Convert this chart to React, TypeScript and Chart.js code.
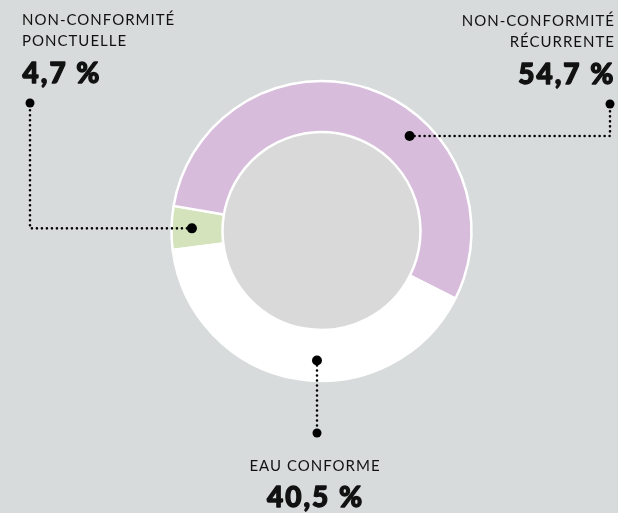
import React, { useEffect, useRef } from "react";
import { Chart, registerables } from "chart.js";

Chart.register(...registerables);

// ---- data ----
const categories = ["Non-conformité ponctuelle", "Non-conformité récurrente", "Eau conforme"];
const titleLines = [
  ["NON-CONFORMITÉ", "PONCTUELLE"],
  ["NON-CONFORMITÉ", "RÉCURRENTE"],
  ["EAU CONFORME"],
];
const values = [4.7, 54.7, 40.5];
const colors = ["#d4e3bb", "#d7bcdb", "#ffffff"];

const fmt = (v: number) => v.toFixed(1).replace(".", ",") + " %";

// leader line config (style/layout)
const leaders = [
  { angleFrac: 0.5, radFrac: 0.6, kind: "left", endX: 30, endY: 103 },
  { angleFrac: 0.625, radFrac: 0.6, kind: "right", endX: 610, endY: 104 },
  { angleFrac: 0.447, radFrac: 0.6, kind: "down", endY: 433 },
];

const BG = "#d8dbdb";
const INNER = "#d9d9d9";
const TITLE_FONT = "15px Lato, 'Open Sans', sans-serif";
const TITLE_SPACING = 1.0;
const NUM_FONT = "900 28px Lato, 'Open Sans', sans-serif";
const NUM_SPACING = 2.0;

const innerFill = {
  id: "innerFill",
  beforeDatasetsDraw(chart: any) {
    const arc = chart.getDatasetMeta(0).data[0];
    if (!arc) return;
    const { x, y, innerRadius } = arc.getProps(["x", "y", "innerRadius"], true);
    const ctx = chart.ctx;
    ctx.save();
    ctx.fillStyle = INNER;
    ctx.beginPath();
    ctx.arc(x, y, innerRadius, 0, Math.PI * 2);
    ctx.fill();
    ctx.restore();
  },
};

function drawNum(ctx: any, t: string, x: number, y: number) {
  ctx.font = NUM_FONT;
  ctx.letterSpacing = NUM_SPACING + "px";
  ctx.lineWidth = 1.3;
  ctx.lineJoin = "round";
  ctx.strokeStyle = "#111";
  ctx.strokeText(t, x, y);
  ctx.fillText(t, x, y);
}

const leaderPlugin = {
  id: "leaders",
  afterDatasetsDraw(chart: any) {
    const ctx = chart.ctx;
    const meta = chart.getDatasetMeta(0);
    meta.data.forEach((arc: any, i: number) => {
      const L = leaders[i];
      const p = arc.getProps(["x", "y", "startAngle", "endAngle", "innerRadius", "outerRadius"], true);
      const a = p.startAngle + (p.endAngle - p.startAngle) * L.angleFrac;
      const rr = p.innerRadius + (p.outerRadius - p.innerRadius) * L.radFrac;
      const sx = p.x + Math.cos(a) * rr;
      const sy = p.y + Math.sin(a) * rr;
      let ex: number, ey: number;
      const pts: [number, number][] = [[sx, sy]];
      if (L.kind === "down") {
        ex = sx;
        ey = L.endY;
        pts.push([ex, ey]);
      } else {
        ex = L.endX as number;
        ey = L.endY;
        pts.push([ex, sy]);
        pts.push([ex, ey]);
      }
      ctx.save();
      ctx.strokeStyle = "#000";
      ctx.lineWidth = 2.6;
      ctx.lineCap = "round";
      ctx.setLineDash([0, 5]);
      ctx.beginPath();
      ctx.moveTo(pts[0][0], pts[0][1]);
      for (let k = 1; k < pts.length; k++) ctx.lineTo(pts[k][0], pts[k][1]);
      ctx.stroke();
      ctx.setLineDash([]);
      ctx.lineCap = "butt";
      ctx.fillStyle = "#000";
      ctx.beginPath();
      ctx.arc(sx, sy, 5, 0, Math.PI * 2);
      ctx.fill();
      ctx.beginPath();
      ctx.arc(ex, ey, 4.5, 0, Math.PI * 2);
      ctx.fill();

      // texts
      ctx.fillStyle = "#111";
      ctx.textBaseline = "alphabetic";
      const lines = titleLines[i];
      if (L.kind === "left" || L.kind === "right") {
        const align = L.kind === "left" ? "left" : "right";
        const tx = L.kind === "left" ? ex - 8 : ex + 4;
        ctx.textAlign = align;
        ctx.font = TITLE_FONT;
        ctx.letterSpacing = TITLE_SPACING + "px";
        const tOff = L.kind === "right" ? TITLE_SPACING : 0;
        lines.forEach((t, j) => ctx.fillText(t, tx + tOff, ey - 78.5 + j * 21));
        const nOff = L.kind === "right" ? NUM_SPACING - 0.6 : 0.6;
        drawNum(ctx, fmt(values[i]), tx + nOff, ey - 20);
      } else {
        const tx = ex - 2.5;
        ctx.textAlign = "center";
        ctx.font = TITLE_FONT;
        ctx.letterSpacing = TITLE_SPACING + "px";
        lines.forEach((t, j) => ctx.fillText(t, tx + TITLE_SPACING / 2, ey + 38 + j * 21));
        drawNum(ctx, fmt(values[i]), tx + NUM_SPACING / 2, ey + 74);
      }
      ctx.restore();
    });
  },
};

export default function App() {
  const ref = useRef<HTMLCanvasElement>(null);
  useEffect(() => {
    if (!ref.current) return;
    const chart = new Chart(ref.current, {
      type: "doughnut",
      data: {
        labels: categories,
        datasets: [
          {
            data: values,
            backgroundColor: colors,
            borderColor: "#ffffff",
            borderWidth: 2.5,
          },
        ],
      },
      options: {
        responsive: false,
        animation: false,
        rotation: 262.7,
        cutout: "66%",
        radius: 150,
        layout: { padding: { left: 171, right: 146, top: 81, bottom: 132 } },
        plugins: { legend: { display: false }, tooltip: { enabled: false } },
        events: [],
      },
      plugins: [innerFill, leaderPlugin],
    });
    return () => chart.destroy();
  }, []);
  return (
    <div style={{ position: "fixed", left: 0, top: 0, width: 618, height: 513, background: BG }}>
      <canvas ref={ref} width={618} height={513} style={{ display: "block" }} />
    </div>
  );
}
